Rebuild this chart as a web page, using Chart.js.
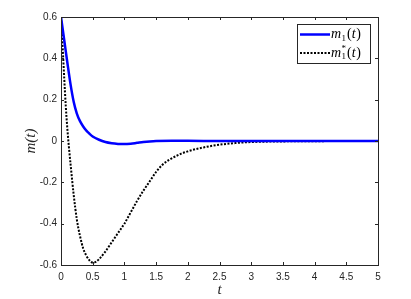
<!DOCTYPE html>
<html>
<head>
<meta charset="utf-8">
<script src="https://cdn.jsdelivr.net/npm/chart.js@4/dist/chart.umd.min.js"></script>
<style>
  html, body { margin: 0; padding: 0; background: #fff; }
  #wrap { width: 411px; height: 299px; }
</style>
</head>
<body>
<div id="wrap"><canvas id="mChart"></canvas></div>
<script>
// m_1(t)
const tBlue = [0, 0.05, 0.1, 0.15, 0.2, 0.25, 0.3, 0.35, 0.4, 0.45, 0.5, 0.6, 0.7, 0.8, 0.9, 1.0, 1.1, 1.2, 1.3, 1.4, 1.5, 1.75, 2.0, 2.5, 3, 3.5, 4, 4.5, 5];
const mBlue = [0.6, 0.49, 0.38, 0.275, 0.19, 0.133, 0.096, 0.07, 0.05, 0.035, 0.022, 0.006, -0.005, -0.011, -0.014, -0.015, -0.013, -0.009, -0.005, -0.002, 0, 0.001, 0.001, 0, 0, 0, 0, 0, 0];

// m_1^*(t)
const tDot = [0, 0.025, 0.05, 0.075, 0.1, 0.125, 0.15, 0.2, 0.25, 0.3, 0.35, 0.4, 0.45, 0.5, 0.55, 0.6, 0.7, 0.8, 0.9, 1.0, 1.1, 1.2, 1.3, 1.4, 1.5, 1.6, 1.8, 2.0, 2.25, 2.5, 2.75, 3.0, 3.5, 4.0, 4.5, 5.0];
const mDot = [0.6, 0.46, 0.31, 0.17, 0.06, -0.03, -0.11, -0.26, -0.38, -0.46, -0.52, -0.555, -0.578, -0.588, -0.585, -0.572, -0.535, -0.49, -0.445, -0.4, -0.345, -0.29, -0.24, -0.195, -0.15, -0.115, -0.075, -0.05, -0.031, -0.018, -0.01, -0.005, -0.002, -0.001, 0, 0];

const xTicks = [0, 0.5, 1, 1.5, 2, 2.5, 3, 3.5, 4, 4.5, 5];
const yTicks = [-0.6, -0.4, -0.2, 0, 0.2, 0.4, 0.6];

const axisColor = '#262626';
const tickFont = { family: '"Liberation Sans", Arial, sans-serif', size: 10 };

function toPoints(xs, ys) {
  return xs.map((x, i) => ({ x: x, y: ys[i] }));
}

// MATLAB-like box with inward ticks on all four sides
const boxPlugin = {
  id: 'box',
  afterDatasetsDraw(chart) {
    const { ctx, chartArea: a, scales } = chart;
    ctx.save();
    ctx.strokeStyle = axisColor;
    ctx.lineWidth = 1;
    ctx.strokeRect(a.left + 0.5, a.top + 0.5, a.right - a.left, a.bottom - a.top);
    ctx.beginPath();
    const len = 3;
    xTicks.forEach(v => {
      const px = Math.round(scales.x.getPixelForValue(v)) + 0.5;
      ctx.moveTo(px, a.bottom); ctx.lineTo(px, a.bottom - len);
      ctx.moveTo(px, a.top); ctx.lineTo(px, a.top + len);
    });
    yTicks.forEach(v => {
      const py = Math.round(scales.y.getPixelForValue(v)) + 0.5;
      ctx.moveTo(a.left, py); ctx.lineTo(a.left + len, py);
      ctx.moveTo(a.right, py); ctx.lineTo(a.right - len, py);
    });
    ctx.stroke();
    ctx.restore();
  }
};

// legend box inside the axes, top right
const legendPlugin = {
  id: 'innerLegend',
  afterDraw(chart) {
    const { ctx, chartArea: a } = chart;
    const bx = a.right - 81, by = a.top + 7, bw = 73, bh = 39;
    ctx.save();
    ctx.fillStyle = '#fff';
    ctx.fillRect(bx, by, bw, bh);
    ctx.strokeStyle = axisColor;
    ctx.lineWidth = 1;
    ctx.strokeRect(bx + 0.5, by + 0.5, bw, bh);

    const rows = [
      { y: by + 10.5, color: '#0000ff', dash: [], width: 2.5, star: false },
      { y: by + 29, color: '#000000', dash: [2, 1.5], width: 2, star: true }
    ];
    rows.forEach(r => {
      ctx.beginPath();
      ctx.setLineDash(r.dash);
      ctx.strokeStyle = r.color;
      ctx.lineWidth = r.width;
      ctx.moveTo(bx + 3, r.y);
      ctx.lineTo(bx + 33, r.y);
      ctx.stroke();
      ctx.setLineDash([]);

      ctx.fillStyle = '#000';
      ctx.textBaseline = 'middle';
      let x = bx + 34;
      const base = r.y;
      ctx.font = 'italic 14px "Liberation Serif", serif';
      ctx.fillText('m', x, base);
      x += ctx.measureText('m').width + 0.5;
      ctx.font = '9px "Liberation Serif", serif';
      ctx.fillText('1', x, base + 4);
      if (r.star) ctx.fillText('*', x, base - 4);
      x += ctx.measureText('1').width + 1;
      ctx.font = '14px "Liberation Serif", serif';
      ctx.fillText('(', x, base);
      x += ctx.measureText('(').width;
      ctx.font = 'italic 14px "Liberation Serif", serif';
      ctx.fillText('t', x, base);
      x += ctx.measureText('t').width + 0.5;
      ctx.font = '14px "Liberation Serif", serif';
      ctx.fillText(')', x, base);
    });
    ctx.restore();
  }
};

new Chart(document.getElementById('mChart').getContext('2d'), {
  type: 'line',
  data: {
    datasets: [
      {
        label: 'm1(t)',
        data: toPoints(tBlue, mBlue),
        borderColor: '#0000ff',
        borderWidth: 2.5,
        pointRadius: 0,
        cubicInterpolationMode: 'monotone',
        fill: false
      },
      {
        label: 'm1*(t)',
        data: toPoints(tDot, mDot),
        borderColor: '#000000',
        borderWidth: 2,
        borderDash: [2, 1.5],
        pointRadius: 0,
        cubicInterpolationMode: 'monotone',
        fill: false
      }
    ]
  },
  options: {
    responsive: true,
    maintainAspectRatio: false,
    animation: false,
    layout: { padding: { left: 0, top: 17, right: 33, bottom: 0 } },
    plugins: {
      legend: { display: false },
      tooltip: { enabled: false }
    },
    scales: {
      x: {
        type: 'linear',
        min: 0,
        max: 5,
        afterBuildTicks: s => { s.ticks = xTicks.map(v => ({ value: v })); },
        afterFit: s => { s.height = 34; },
        grid: { display: false, drawTicks: false },
        border: { display: false },
        ticks: {
          padding: 6,
          color: axisColor,
          font: tickFont,
          maxRotation: 0,
          autoSkip: false,
          callback: v => String(v)
        },
        title: {
          display: true,
          text: 't',
          color: axisColor,
          font: { family: '"Liberation Serif", serif', style: 'italic', size: 15 },
          padding: { top: 0, bottom: 0 }
        }
      },
      y: {
        type: 'linear',
        min: -0.6,
        max: 0.6,
        afterBuildTicks: s => { s.ticks = yTicks.map(v => ({ value: v })); },
        afterFit: s => { s.width = 61; },
        grid: { display: false, drawTicks: false },
        border: { display: false },
        ticks: {
          padding: 4,
          color: axisColor,
          font: tickFont,
          autoSkip: false,
          callback: v => String(v)
        },
        title: {
          display: true,
          text: 'm(t)',
          color: axisColor,
          font: { family: '"Liberation Serif", serif', style: 'italic', size: 15 },
          padding: { top: 22, bottom: 0 }
        }
      }
    }
  },
  plugins: [boxPlugin, legendPlugin]
});
</script>
</body>
</html>
